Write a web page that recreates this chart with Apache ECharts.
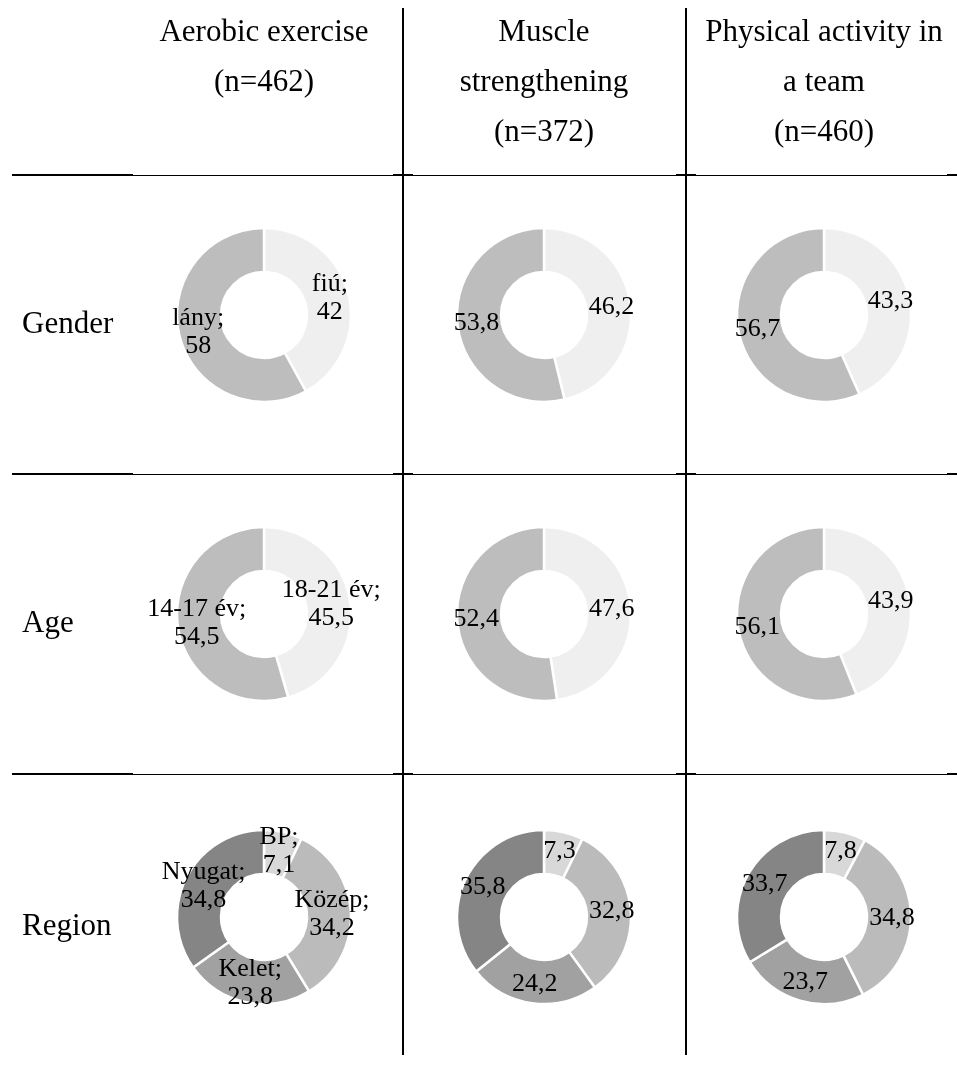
<!DOCTYPE html>
<html>
<head>
<meta charset="utf-8">
<script src="https://cdn.jsdelivr.net/npm/echarts@6/dist/echarts.min.js"></script>
<style>
  html, body { margin: 0; padding: 0; background: #fff; }
  #chart { width: 957px; height: 1067px; }
</style>
</head>
<body>
<div id="chart"></div>
<script>
// Column headings (one entry per activity type)
const columnTitles = [
  'Aerobic exercise\n(n=462)',
  'Muscle\nstrengthening\n(n=372)',
  'Physical activity in\na team\n(n=460)'
];
// Row headings
const rowTitles = ['Gender', 'Age', 'Region'];

// Slice names per row
const genderNames = ['fiú', 'lány'];
const ageNames = ['18-21 év', '14-17 év'];
const regionNames = ['BP', 'Közép', 'Kelet', 'Nyugat'];

// Percentages, one inner array per column
const genderValues = [[42, 58], [46.2, 53.8], [43.3, 56.7]];
const ageValues = [[45.5, 54.5], [47.6, 52.4], [43.9, 56.1]];
const regionValues = [[7.1, 34.2, 23.8, 34.8], [7.3, 32.8, 24.2, 35.8], [7.8, 34.8, 23.7, 33.7]];

// Slice fills
const twoColors = ['#efefef', '#bdbdbd'];
const regionColors = ['#d8d8d8', '#bbbbbb', '#a1a1a1', '#858585'];

const SERIF = "'Liberation Serif', 'Times New Roman', serif";

// Table geometry
const colCenters = [264, 544, 824];
const rowCenters = [315, 614, 917];
const rowLines = [175, 474, 774];
const colLines = [403, 686];

const rows = [
  { names: genderNames, values: genderValues, colors: twoColors },
  { names: ageNames, values: ageValues, colors: twoColors },
  { names: regionNames, values: regionValues, colors: regionColors }
];

const fmt = v => String(v).replace('.', ',');

const series = [];
rows.forEach((row, r) => {
  row.values.forEach((vals, c) => {
    series.push({
      type: 'pie',
      center: [colCenters[c], rowCenters[r]],
      radius: [43, 87],
      startAngle: 90,
      clockwise: true,
      silent: true,
      animation: false,
      color: row.colors,
      itemStyle: { borderColor: '#ffffff', borderWidth: 2.5 },
      label: {
        show: true,
        position: 'inside',
        color: '#000',
        fontFamily: SERIF,
        fontSize: 26,
        lineHeight: 28,
        formatter: p => c === 0 ? p.name + ';\n' + fmt(p.value) : fmt(p.value)
      },
      labelLine: { show: false },
      emphasis: { disabled: true },
      data: vals.map((v, i) => ({ name: row.names[i], value: v }))
    });
  });
});

const graphics = [];
// Column headings
columnTitles.forEach((t, c) => {
  graphics.push({
    type: 'text', silent: true,
    style: {
      text: t, x: colCenters[c], y: 8,
      textAlign: 'center', textVerticalAlign: 'top',
      fontFamily: SERIF, fontSize: 31, lineHeight: 50, fill: '#000'
    }
  });
});
// Row headings
rowTitles.forEach((t, r) => {
  graphics.push({
    type: 'text', silent: true,
    style: {
      text: t, x: 22, y: rowCenters[r] + 10,
      textAlign: 'left', textVerticalAlign: 'middle',
      fontFamily: SERIF, fontSize: 31, fill: '#000'
    }
  });
});
// Horizontal rules
rowLines.forEach(y => {
  graphics.push({ type: 'line', silent: true, shape: { x1: 12, y1: y, x2: 133, y2: y }, style: { stroke: '#000', lineWidth: 2 } });
  graphics.push({ type: 'line', silent: true, shape: { x1: 133, y1: y + 0.5, x2: 957, y2: y + 0.5 }, style: { stroke: '#000', lineWidth: 1 } });
  colLines.forEach(x => {
    graphics.push({ type: 'line', silent: true, shape: { x1: x - 10, y1: y, x2: x + 10, y2: y }, style: { stroke: '#000', lineWidth: 2 } });
  });
  graphics.push({ type: 'line', silent: true, shape: { x1: 947, y1: y, x2: 957, y2: y }, style: { stroke: '#000', lineWidth: 2 } });
});
// Vertical rules
colLines.forEach(x => {
  graphics.push({ type: 'line', silent: true, shape: { x1: x, y1: 8, x2: x, y2: 1055 }, style: { stroke: '#000', lineWidth: 2 } });
});

const chart = echarts.init(document.getElementById('chart'), null, { renderer: 'canvas' });
chart.setOption({
  animation: false,
  backgroundColor: '#fff',
  graphic: graphics,
  series: series
});
</script>
</body>
</html>
